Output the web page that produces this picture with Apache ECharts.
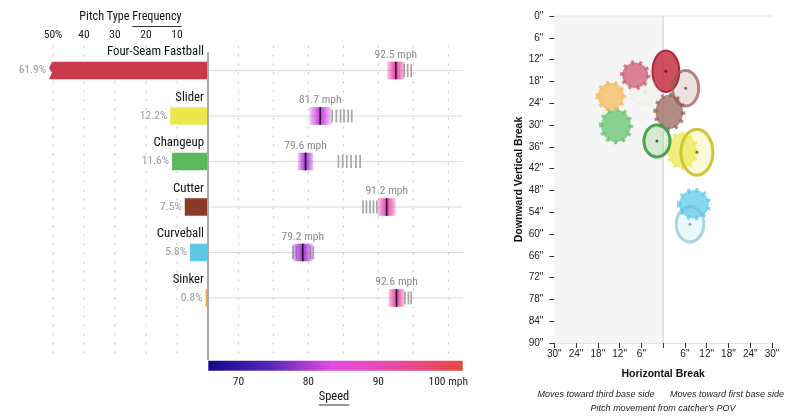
<!DOCTYPE html>
<html><head><meta charset="utf-8">
<script src="https://cdn.jsdelivr.net/npm/echarts@6/dist/echarts.min.js"></script>
<style>html,body{margin:0;padding:0;background:#fff}#c{width:800px;height:419px}</style>
</head><body><div id="c"></div>
<script>
// ---------------- data ----------------
const pitchTypes = ['Four-Seam Fastball', 'Slider', 'Changeup', 'Cutter', 'Curveball', 'Sinker'];
const frequency = [61.9, 12.2, 11.6, 7.5, 5.8, 0.8];
const avgSpeed = [92.5, 81.7, 79.6, 91.2, 79.2, 92.6];
const speedSpread = [2.5, 3.1, 2.2, 2.6, 2.9, 2.3];
const compSpeeds = [
  [93.7, 94.2, 94.7],
  [83.4, 84.0, 84.6, 85.1, 85.7, 86.2],
  [84.3, 84.9, 85.5, 86.1, 86.8, 87.4],
  [87.8, 88.3, 88.8, 89.3, 89.8],
  [77.8, 78.3, 80.3, 80.7],
  [93.8, 94.3, 94.7]
];
const freqTicks = [50, 40, 30, 20, 10];
const speedTicks = [70, 80, 90, 100];
const speedGridTicks = [70, 75, 80, 85, 90, 95, 100];
const breakX = [0.75, 9.3, -1.7, 6.2, 7.4, -5.0];
const breakY = [15.2, 37.5, 34.4, 19.9, 57.3, 21.0];
const breakRX = [3.7, 4.4, 3.6, 3.6, 3.8, 4.1];
const breakRY = [5.7, 6.3, 4.4, 4.9, 4.9, 3.4];
const leagueX = [-7.7, 5.2, -13.0, 1.7, 8.5, -14.4];
const leagueY = [16.3, 37.1, 30.2, 26.4, 51.8, 22.1];
const leagueRX = [3.6, 4.0, 4.1, 3.8, 4.1, 3.6];
const leagueRY = [3.5, 4.7, 4.5, 4.7, 3.9, 3.7];

// ---------------- styles ----------------
const barColors = ['#c8394b', '#ece74f', '#5cb85c', '#8b3a2a', '#5bc8e6', '#f0b04c'];
const barRGB = [[200,57,75],[236,231,79],[92,184,92],[139,58,42],[91,200,230],[240,176,76]];
const gearRGB = [[205,85,110],[236,230,80],[95,195,105],[150,95,85],[90,200,232],[245,185,85]];
const strokeRGB = [[165,35,55],[205,195,50],[70,160,70],[150,90,80],[110,185,205],[200,200,200]];
const FREQ_MAX = 51.3;
const SPEED_MIN = 65.7, SPEED_MAX = 102.06;
const COND = '"Roboto Condensed","Liberation Sans Narrow","DejaVu Sans Condensed",Roboto,sans-serif';
const HELV = '"Liberation Sans",Arial,Helvetica,sans-serif';
const stops = [[0,[20,10,140]],[0.25,[90,40,184]],[0.485,[230,76,230]],[0.75,[230,74,158]],[1,[232,74,60]]];
function scaleRGB(t){
  t = Math.max(0, Math.min(1, t));
  for (let k = 1; k < stops.length; k++) {
    if (t <= stops[k][0]) {
      const a = stops[k-1], b = stops[k];
      const f = (t - a[0]) / (b[0] - a[0]);
      return a[1].map((c, j) => Math.round(c + (b[1][j] - c) * f));
    }
  }
  return stops[stops.length-1][1];
}
function rgba(c, a){ return 'rgba(' + c[0] + ',' + c[1] + ',' + c[2] + ',' + a + ')'; }
function speedColor(s, a){ return rgba(scaleRGB((s - SPEED_MIN) / (SPEED_MAX - SPEED_MIN)), a); }

const rows = pitchTypes.map((p, i) => [frequency[i], i]);

const chart = echarts.init(document.getElementById('c'));

const mctx = document.createElement('canvas').getContext('2d');
function tw(txt, font){ mctx.font = font; return mctx.measureText(txt).width; }

const option = {
  animation: false,
  grid: [
    { left: 49, width: 159, top: 47.75, height: 307.1 },
    { left: 208.3, width: 254.4, top: 47.75, height: 307.1 },
    { left: 554.3, width: 217.7, top: 16, height: 327 }
  ],
  xAxis: [
    { gridIndex: 0, type: 'value', inverse: true, min: 0, max: FREQ_MAX, show: false },
    { gridIndex: 1, type: 'value', min: SPEED_MIN, max: SPEED_MAX, show: false },
    { gridIndex: 2, type: 'value', min: -30, max: 30, interval: 6, position: 'bottom',
      axisLine: { show: true, onZero: false, lineStyle: { color: '#e2e2e2', width: 1 } },
      axisTick: { show: true, length: 5, lineStyle: { color: '#333', width: 1 } },
      splitLine: { show: false },
      axisLabel: { margin: 6, fontSize: 10, color: '#222', fontFamily: HELV,
        formatter: v => v === 0 ? '' : Math.abs(v) + '"' },
      name: 'Horizontal Break', nameLocation: 'middle', nameGap: 26,
      nameTextStyle: { fontSize: 10.5, fontWeight: 'bold', color: '#111', fontFamily: HELV }
    }
  ],
  yAxis: [
    { gridIndex: 0, type: 'value', inverse: true, min: -0.5, max: 6.25, show: false },
    { gridIndex: 1, type: 'value', inverse: true, min: -0.5, max: 6.25, show: false },
    { gridIndex: 2, type: 'value', inverse: true, min: 0, max: 90, interval: 6, position: 'left',
      axisLine: { show: true, onZero: false, lineStyle: { color: 'rgba(0,0,0,0)', width: 1 } },
      axisTick: { show: true, length: 5, lineStyle: { color: '#333', width: 1 } },
      splitLine: { show: false },
      axisLabel: { margin: 11, fontSize: 10, color: '#222', fontFamily: HELV, formatter: v => v + '"' },
      name: 'Downward Vertical Break', nameLocation: 'middle', nameGap: 30, nameRotate: 90,
      nameTextStyle: { fontSize: 10.5, fontWeight: 'bold', color: '#111', fontFamily: HELV }
    }
  ],
  series: [
    { type: 'custom', xAxisIndex: 0, yAxisIndex: 0, clip: false, z: 1,
      data: freqTicks.map(v => [v]),
      renderItem(params, api){
        const v = api.value(0);
        const a = api.coord([v, -0.55]), b = api.coord([v, 6.25]);
        return { type: 'group', children: [
          { type: 'line', shape: { x1: a[0], y1: a[1], x2: b[0], y2: b[1] },
            style: { stroke: '#bdbdbd', lineWidth: 1, lineDash: [2, 7] } },
          { type: 'text', x: a[0], y: a[1] - 10,
            style: { text: v === 50 ? '50%' : String(v), fill: '#222', font: '11.5px ' + COND, align: 'center', verticalAlign: 'middle' } }
        ]};
      }
    },
    { type: 'custom', xAxisIndex: 0, yAxisIndex: 0, clip: false, z: 3,
      data: rows,
      renderItem(params, api){
        const v = api.value(0), i = api.value(1);
        const p0 = api.coord([0, i]);
        const p1 = api.coord([Math.min(v, FREQ_MAX), i]);
        const h = 17.5, top = p0[1] - h / 2, bot = top + h;
        const ch = [];
        if (v > FREQ_MAX) {
          const xl = p1[0];
          ch.push({ type: 'polygon', shape: { points: [[p0[0], top], [xl + 3, top], [xl, top + h * 0.38], [xl + 3, top + h * 0.62], [xl, bot], [p0[0], bot]] },
            style: { fill: barColors[i] } });
        } else {
          ch.push({ type: 'rect', shape: { x: p1[0], y: top, width: p0[0] - p1[0], height: h }, style: { fill: barColors[i] } });
        }
        ch.push({ type: 'text', x: p1[0] - 3, y: p0[1],
          style: { text: v.toFixed(1) + '%', fill: '#9a9a9a', font: '11.5px ' + COND, align: 'right', verticalAlign: 'middle' } });
        ch.push({ type: 'text', x: p0[0] - 4, y: p0[1] - 18.5,
          style: { text: pitchTypes[i], fill: '#111', font: '12.8px ' + COND, align: 'right', verticalAlign: 'middle' } });
        return { type: 'group', children: ch };
      }
    },
    { type: 'custom', xAxisIndex: 0, yAxisIndex: 0, clip: false, z: 5,
      data: [[0]],
      renderItem(params, api){
        const a = api.coord([0, -0.4]), b = api.coord([0, 6.37]);
        return { type: 'line', shape: { x1: a[0], y1: a[1], x2: b[0], y2: b[1] }, style: { stroke: '#a8a8a8', lineWidth: 2 } };
      }
    },
    { type: 'custom', xAxisIndex: 1, yAxisIndex: 1, clip: false, z: 1,
      data: speedGridTicks.map(v => [v]),
      renderItem(params, api){
        const v = api.value(0);
        const a = api.coord([v, -0.55]), b = api.coord([v, 6.25]);
        return { type: 'line', shape: { x1: a[0], y1: a[1], x2: b[0], y2: b[1] },
          style: { stroke: '#bdbdbd', lineWidth: 1, lineDash: [2, 7] } };
      }
    },
    { type: 'custom', xAxisIndex: 1, yAxisIndex: 1, clip: false, z: 2,
      data: rows.map(r => [SPEED_MIN, r[1]]),
      renderItem(params, api){
        const i = api.value(1);
        const a = api.coord([SPEED_MIN, i]), b = api.coord([SPEED_MAX, i]);
        return { type: 'line', shape: { x1: a[0], y1: a[1], x2: b[0], y2: b[1] }, style: { stroke: '#d8d8d8', lineWidth: 1 } };
      }
    },
    { type: 'custom', xAxisIndex: 1, yAxisIndex: 1, clip: false, z: 2,
      data: [[SPEED_MIN]],
      renderItem(params, api){
        const a = api.coord([SPEED_MIN, 6.25]), b = api.coord([SPEED_MAX, 6.25]);
        const cs = stops.map(s => ({ offset: s[0], color: rgba(s[1], 1) }));
        return { type: 'rect', shape: { x: a[0], y: a[1] + 6, width: b[0] - a[0], height: 10 },
          style: { fill: new echarts.graphic.LinearGradient(0, 0, 1, 0, cs) } };
      }
    },
    { type: 'custom', xAxisIndex: 1, yAxisIndex: 1, clip: false, z: 2,
      data: speedTicks.map(v => [v]),
      renderItem(params, api){
        const v = api.value(0);
        const a = api.coord([v, 6.25]);
        return { type: 'text', x: a[0], y: a[1] + 27,
          style: { text: v === 100 ? '100 mph' : String(v), fill: '#222', font: '11.5px ' + COND, align: 'center', verticalAlign: 'middle' } };
      }
    },
    { type: 'custom', xAxisIndex: 1, yAxisIndex: 1, clip: false, z: 4,
      data: avgSpeed.map((s, i) => [s, i]),
      renderItem(params, api){
        const s = api.value(0), i = api.value(1);
        const c = api.coord([s, i]);
        const ch = [];
        compSpeeds[i].forEach(cv => {
          const p = api.coord([cv, i]);
          ch.push({ type: 'line', shape: { x1: p[0], y1: c[1] - 6.5, x2: p[0], y2: c[1] + 6.5 }, style: { stroke: '#a6a6a6', lineWidth: 1.7 } });
        });
        const l = api.coord([s - speedSpread[i] / 2, i]), r = api.coord([s + speedSpread[i] / 2, i]);
        const h = 17.6;
        ch.push({ type: 'rect', shape: { x: l[0], y: c[1] - h / 2, width: r[0] - l[0], height: h },
          style: { fill: new echarts.graphic.LinearGradient(0, 0, 1, 0, [
            { offset: 0, color: speedColor(s, 0.25) },
            { offset: 0.2, color: speedColor(s, 0.6) },
            { offset: 0.4, color: speedColor(s, 0.9) },
            { offset: 0.5, color: speedColor(s, 1) },
            { offset: 0.6, color: speedColor(s, 0.9) },
            { offset: 0.8, color: speedColor(s, 0.6) },
            { offset: 1, color: speedColor(s, 0.25) }
          ]) } });
        ch.push({ type: 'line', shape: { x1: c[0], y1: c[1] - h / 2, x2: c[0], y2: c[1] + h / 2 }, style: { stroke: '#2a0838', lineWidth: 1.6 } });
        ch.push({ type: 'text', x: c[0], y: c[1] - 15.5,
          style: { text: s.toFixed(1) + ' mph', fill: '#8a8a8a', font: '11.5px ' + COND, align: 'center', verticalAlign: 'middle' } });
        return { type: 'group', children: ch };
      }
    },
    { type: 'custom', xAxisIndex: 2, yAxisIndex: 2, clip: false, z: 0,
      data: [[0, 0]],
      renderItem(params, api){
        const tl = api.coord([-30, 0]), br = api.coord([0, 90]), tr = api.coord([30, 0]);
        return { type: 'group', children: [
          { type: 'rect', shape: { x: tl[0], y: tl[1], width: br[0] - tl[0], height: br[1] - tl[1] }, style: { fill: '#f5f5f5' } },
          { type: 'line', shape: { x1: br[0], y1: tl[1], x2: br[0], y2: br[1] }, style: { stroke: '#cfcfcf', lineWidth: 1 } },
          { type: 'line', shape: { x1: tl[0], y1: tl[1], x2: tr[0], y2: tr[1] }, style: { stroke: '#e6e6e6', lineWidth: 1 } }
        ]};
      }
    },
    { type: 'custom', xAxisIndex: 2, yAxisIndex: 2, clip: false, z: 2,
      data: leagueX.map((x, i) => [x, leagueY[i], i]),
      renderItem(params, api){
        const i = api.value(2);
        const c = api.coord([api.value(0), api.value(1)]);
        const sz = api.size([leagueRX[i], leagueRY[i]]);
        const col = rgba(gearRGB[i], 0.72);
        return { type: 'ellipse', shape: { cx: c[0], cy: c[1], rx: sz[0], ry: sz[1] },
          style: { fill: col, stroke: col, lineWidth: 4.5, lineDash: [3, 5] } };
      }
    },
    { type: 'custom', xAxisIndex: 2, yAxisIndex: 2, clip: false, z: 3,
      data: breakX.map((x, i) => [x, breakY[i], i]),
      renderItem(params, api){
        const i = api.value(2);
        const f = frequency[i];
        const c = api.coord([api.value(0), api.value(1)]);
        const sz = api.size([breakRX[i], breakRY[i]]);
        const fillA = Math.min(0.88, 0.02 + f / 60);
        const strokeA = Math.min(0.95, 0.04 + f / 11);
        return { type: 'group', children: [
          { type: 'ellipse', shape: { cx: c[0], cy: c[1], rx: sz[0], ry: sz[1] },
            style: { fill: rgba(barRGB[i], fillA), stroke: rgba(strokeRGB[i], strokeA), lineWidth: i === 0 ? 2 : 3 } },
          { type: 'circle', shape: { cx: c[0], cy: c[1], r: 1.5 }, style: { fill: rgba(strokeRGB[i].map(v => Math.round(v * 0.6)), strokeA) } }
        ]};
      }
    }
  ],
  graphic: []
};

const titleFont = '12.2px ' + COND;
const t1 = 'Pitch Type ', t2 = 'Frequency';
const w1 = tw(t1, titleFont), w2 = tw(t2, titleFont);
const tx0 = 130.5 - (w1 + w2) / 2;
const spFont = '12.5px ' + COND;
const ws = tw('Speed', spFont);
option.graphic = [
  { type: 'text', left: tx0, top: 11, style: { text: t1, font: titleFont, fill: '#111' } },
  { type: 'text', left: tx0 + w1, top: 11, style: { text: t2, font: titleFont, fill: '#111' } },
  { type: 'line', shape: { x1: tx0 + w1, y1: 26.5, x2: tx0 + w1 + w2, y2: 26.5 }, style: { stroke: '#333', lineWidth: 1 } },
  { type: 'text', left: 334 - ws / 2, top: 390, style: { text: 'Speed', font: spFont, fill: '#111' } },
  { type: 'line', shape: { x1: 334 - ws / 2, y1: 405, x2: 334 + ws / 2, y2: 405 }, style: { stroke: '#333', lineWidth: 1 } },
  { type: 'text', x: 596, y: 394, style: { text: 'Moves toward third base side', font: 'italic 9px ' + HELV, fill: '#222', align: 'center', verticalAlign: 'middle' } },
  { type: 'text', x: 727, y: 394, style: { text: 'Moves toward first base side', font: 'italic 9px ' + HELV, fill: '#222', align: 'center', verticalAlign: 'middle' } },
  { type: 'text', x: 663, y: 408, style: { text: "Pitch movement from catcher's POV", font: 'italic 9px ' + HELV, fill: '#222', align: 'center', verticalAlign: 'middle' } }
];

chart.setOption(option);
</script>
</body></html>
